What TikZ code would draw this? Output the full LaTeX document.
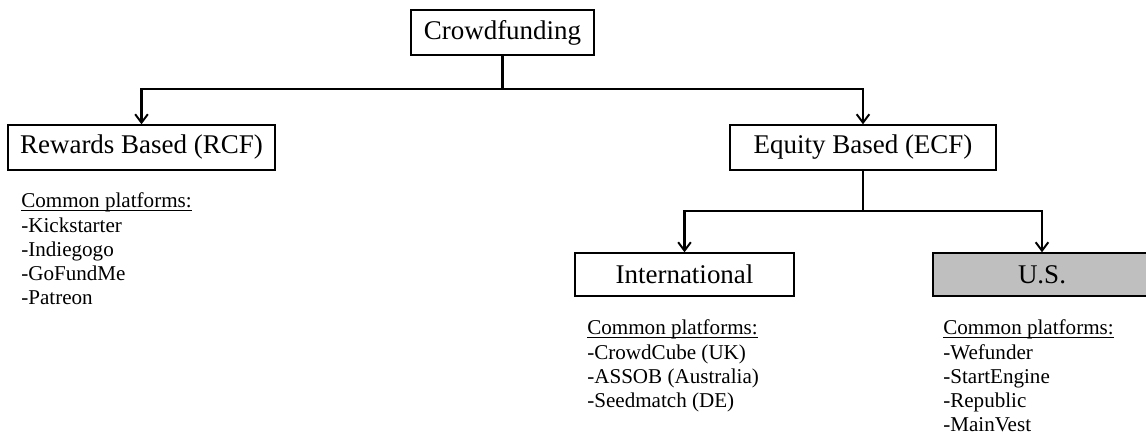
\documentclass[tikz,border=0pt]{standalone}
\usepackage{fontspec}
\setmainfont{Liberation Serif}
\usepackage{tikz}
\usetikzlibrary{arrows.meta}

% underline sitting just below the baseline
\newcommand{\headul}[1]{\setbox0\hbox{#1}\rlap{\rule[-1.9pt]{\wd0}{0.6pt}}\box0}

\begin{document}
\begin{tikzpicture}
	\useasboundingbox (0,0) rectangle (28.65,-10.85);
	% Define styles
	\tikzstyle{cat}=[rectangle, draw=black, line width=1pt, minimum height=1.125cm, inner sep=0pt, font=\fontsize{19.2}{23}\selectfont]
	\tikzstyle{plat}=[anchor=north west, inner sep=0pt, align=left, font=\fontsize{15}{17.2}\selectfont]
	\tikzstyle{link}=[line width=1.6pt]
	\tikzstyle{linkto}=[link, -{Straight Barb[length=6pt,width=9pt,line width=1.4pt]}]

	\node[cat, minimum width=4.575cm] (crowd) at (12.5625,-0.8125) {Crowdfunding};
	\node[cat, minimum width=6.675cm] (rcf) at (3.5375,-3.6875) {Rewards Based (RCF)};
	\node[cat, minimum width=6.65cm] (ecf) at (21.575,-3.6875) {Equity Based (ECF)};
	\node[cat, minimum width=5.475cm, minimum height=1.075cm] (intl) at (17.1125,-6.8625) {International};
	\node[cat, minimum width=5.45cm, minimum height=1.075cm, fill=black!25] (us) at (26.05,-6.8625) {U.S.};

	% branch points
	\coordinate (split1) at (12.5625,-2.225);
	\coordinate (split2) at (21.575,-5.275);

	\draw[link] (crowd.south) -- (split1);
	\draw[linkto] (split1) -| (rcf.north);
	\draw[linkto] (split1) -| (ecf.north);
	\draw[link] (ecf.south) -- (split2);
	\draw[linkto] (split2) -| (intl.north);
	\draw[linkto] (split2) -| (us.north);

	% platform lists
	\node[plat] (rcfList) at (0.525,-4.82) {\headul{Common platforms:}\\-Kickstarter\\-Indiegogo\\-GoFundMe\\-Patreon};
	\node[plat] (intlList) at (14.675,-7.995) {\headul{Common platforms:}\\-CrowdCube (UK)\\-ASSOB (Australia)\\-Seedmatch (DE)};
	\node[plat] (usList) at (23.575,-7.995) {\headul{Common platforms:}\\-Wefunder\\-StartEngine\\-Republic\\-MainVest};
\end{tikzpicture}
\end{document}
